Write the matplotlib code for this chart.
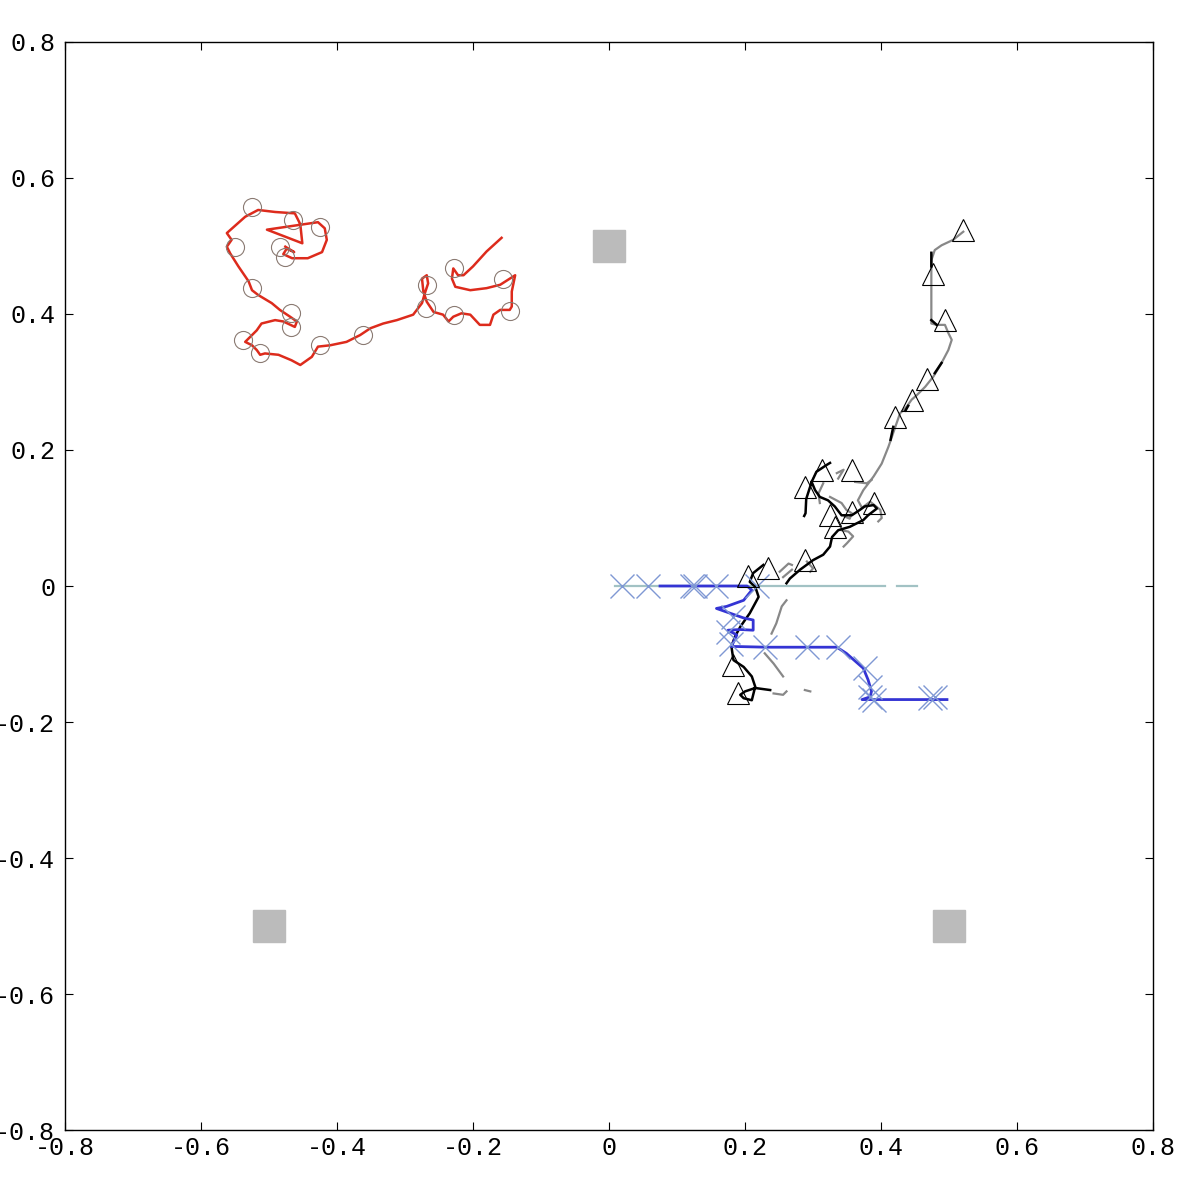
"""Agent trajectories around three gray landmarks."""

import matplotlib

matplotlib.use("Agg")
import matplotlib.pyplot as plt
import numpy as np

nan = np.nan

# landmarks
LANDMARK_X = [0.0, -0.5, 0.5]
LANDMARK_Y = [0.5, -0.5, -0.5]

# red path (circles)
RED_X = [-0.158, -0.180, -0.200, -0.214, -0.222, -0.229, -0.231, -0.226, -0.204, -0.180,
         -0.160, -0.138, -0.143, -0.143, -0.146, -0.160, -0.170, -0.175, -0.190, -0.204,
         -0.217, -0.229, -0.236, -0.244, -0.258, -0.268, -0.273, -0.275, -0.268, -0.266,
         -0.271, -0.275, -0.288, -0.312, -0.332, -0.351, -0.366, -0.386, -0.410, -0.428,
         -0.437, -0.454, -0.467, -0.486, -0.506, -0.513, -0.518, -0.525, -0.535, -0.518,
         -0.511, -0.491, -0.479, -0.462, -0.459, -0.469, -0.484, -0.496, -0.516, -0.525,
         -0.530, -0.545, -0.557, -0.562, -0.555, -0.562, -0.535, -0.516, -0.491, -0.462,
         -0.454, -0.451, -0.503, -0.469, -0.428, -0.418, -0.415, -0.422, -0.443, -0.466,
         -0.479, -0.474, -0.463, -0.476]
RED_Y = [0.512, 0.492, 0.470, 0.457, 0.457, 0.467, 0.452, 0.440, 0.435, 0.438,
         0.443, 0.457, 0.433, 0.411, 0.406, 0.406, 0.399, 0.384, 0.384, 0.399,
         0.401, 0.396, 0.389, 0.399, 0.403, 0.418, 0.433, 0.452, 0.457, 0.445,
         0.430, 0.416, 0.399, 0.391, 0.386, 0.379, 0.369, 0.359, 0.354, 0.352,
         0.337, 0.325, 0.332, 0.340, 0.342, 0.340, 0.347, 0.354, 0.359, 0.376,
         0.386, 0.391, 0.389, 0.381, 0.389, 0.396, 0.406, 0.416, 0.428, 0.435,
         0.448, 0.470, 0.489, 0.499, 0.509, 0.519, 0.543, 0.553, 0.550, 0.548,
         0.532, 0.504, 0.524, 0.529, 0.535, 0.526, 0.509, 0.491, 0.482, 0.482,
         0.488, 0.496, 0.491, 0.499]
CIRCLE_X = [-0.525, -0.464, -0.425, -0.550, -0.484, -0.476, -0.525, -0.467, -0.467, -0.538,
            -0.513, -0.425, -0.362, -0.268, -0.269, -0.228, -0.228, -0.156, -0.146]
CIRCLE_Y = [0.558, 0.538, 0.528, 0.499, 0.499, 0.484, 0.438, 0.401, 0.381, 0.362,
            0.342, 0.354, 0.369, 0.443, 0.409, 0.468, 0.399, 0.451, 0.404]

# gray path (triangles)
GRAY_X = [0.521, 0.506, 0.489, 0.479, 0.474, 0.474, 0.474, 0.474, 0.482, 0.494,
          0.499, 0.504, 0.499, 0.489, 0.477, 0.465, 0.453, 0.445, 0.438, 0.428,
          0.421, 0.411, 0.401, 0.389, 0.374, 0.366, 0.372, 0.384, 0.399, 0.401, 0.396, nan,
          0.362, 0.379, 0.386, nan, 0.335, 0.345, 0.337, nan, 0.315, 0.308, 0.310, nan,
          0.325, 0.342, 0.349, 0.357, 0.354, 0.347, nan,
          0.342, 0.352, 0.359, 0.350, 0.345, nan, 0.256, 0.269, nan,
          0.251, 0.264, 0.269, nan, 0.291, 0.300, 0.296, nan,
          0.261, 0.254, 0.246, 0.239, nan, 0.229, 0.242, 0.256, nan,
          0.242, 0.256, 0.261, nan, 0.288, 0.296]
GRAY_Y = [0.521, 0.509, 0.501, 0.494, 0.479, 0.460, 0.421, 0.386, 0.384, 0.384,
          0.372, 0.362, 0.347, 0.328, 0.308, 0.293, 0.281, 0.274, 0.264, 0.254,
          0.234, 0.205, 0.180, 0.161, 0.141, 0.126, 0.115, 0.124, 0.112, 0.100, 0.095, nan,
          0.153, 0.151, 0.156, nan, 0.166, 0.171, 0.158, nan, 0.151, 0.136, 0.122, nan,
          0.131, 0.122, 0.112, 0.107, 0.099, 0.102, nan,
          0.082, 0.080, 0.073, 0.063, 0.058, nan, 0.013, 0.024, nan,
          0.021, 0.033, 0.031, nan, 0.036, 0.026, 0.021, nan,
          -0.021, -0.030, -0.055, -0.070, nan, -0.099, -0.114, -0.133, nan,
          -0.158, -0.160, -0.155, nan, -0.153, -0.155]

# black path (triangles)
BLACK_X = [0.237, 0.215, 0.200, 0.193, 0.198, 0.210, 0.212, 0.215, 0.210, 0.198,
           0.183, 0.180, 0.185, 0.193, 0.207, 0.220, 0.215, 0.207, 0.212, 0.227, nan,
           0.261, 0.266, 0.281, 0.300, 0.315, 0.325, 0.328, 0.337, 0.354, 0.374,
           0.381, 0.394, 0.389, 0.376, 0.369, 0.357, 0.342, 0.332, 0.322, 0.310,
           0.303, 0.298, 0.305, 0.320, 0.325, nan,
           0.298, 0.290, 0.289, 0.287, nan, 0.474, 0.474, nan, 0.474, 0.482, nan,
           0.489, 0.479, nan, 0.440, 0.436, nan, 0.418, 0.414]
BLACK_Y = [-0.153, -0.150, -0.155, -0.160, -0.165, -0.168, -0.160, -0.148, -0.133, -0.119,
           -0.109, -0.089, -0.075, -0.060, -0.040, -0.016, -0.001, 0.006, 0.019, 0.031, nan,
           0.004, 0.011, 0.024, 0.038, 0.046, 0.058, 0.072, 0.082, 0.087, 0.097,
           0.104, 0.114, 0.119, 0.117, 0.112, 0.104, 0.104, 0.117, 0.126, 0.131,
           0.141, 0.153, 0.168, 0.178, 0.181, nan,
           0.153, 0.128, 0.107, 0.103, nan, 0.490, 0.470, nan, 0.391, 0.384, nan,
           0.328, 0.313, nan, 0.265, 0.258, nan, 0.234, 0.215]
TRIANGLE_X = [0.520, 0.476, 0.494, 0.467, 0.445, 0.421, 0.313, 0.357, 0.288, 0.389,
              0.325, 0.357, 0.332, 0.288, 0.205, 0.234, 0.183, 0.190]
TRIANGLE_Y = [0.523, 0.459, 0.391, 0.305, 0.274, 0.249, 0.171, 0.171, 0.146, 0.122,
              0.104, 0.109, 0.087, 0.038, 0.014, 0.026, -0.116, -0.158]

# pale path along y = 0 and blue path (crosses)
PALE_X = [0.009, 0.406, nan, 0.424, 0.453]
PALE_Y = [0.0, 0.0, nan, 0.0, 0.0]
BLUE_X = [0.075, 0.100, 0.119, 0.203, 0.210, 0.198, 0.173, 0.158, 0.178, 0.198,
          0.212, 0.212, 0.193, 0.175, 0.188, 0.180, 0.188, 0.232, 0.335, 0.349,
          0.374, 0.381, 0.386, 0.384, 0.372, 0.389, 0.497]
BLUE_Y = [0.0, 0.0, 0.0, 0.0, -0.006, -0.021, -0.030, -0.033, -0.040, -0.047,
          -0.050, -0.065, -0.064, -0.065, -0.072, -0.089, -0.089, -0.090, -0.090, -0.099,
          -0.121, -0.138, -0.155, -0.163, -0.167, -0.167, -0.167]
CROSS_X = [0.019, 0.058, 0.122, 0.126, 0.158, 0.217, 0.182, 0.175, 0.179, 0.229,
           0.291, 0.337, 0.376, 0.384, 0.384, 0.389, 0.472, 0.479]
CROSS_Y = [0.0, 0.0, 0.0, 0.0, 0.0, 0.0, -0.046, -0.068, -0.085, -0.090,
           -0.089, -0.089, -0.121, -0.148, -0.163, -0.168, -0.165, -0.163]

TICKS = [-0.8, -0.6, -0.4, -0.2, 0, 0.2, 0.4, 0.6, 0.8]
TICK_LABELS = ["-0.8", "-0.6", "-0.4", "-0.2", "0", "0.2", "0.4", "0.6", "0.8"]


def main():
    plt.rcParams.update({"font.family": "Liberation Mono", "font.size": 18})
    fig = plt.figure(figsize=(11.86, 11.86), dpi=100)
    ax = fig.add_axes([0.0548, 0.0472, 0.9174, 0.9174])

    ax.plot(LANDMARK_X, LANDMARK_Y, "s", color="#bbbbbb", markersize=23.5, zorder=1)

    ax.plot(RED_X, RED_Y, color="#dd2b1c", lw=1.8, zorder=3)
    ax.plot(CIRCLE_X, CIRCLE_Y, "o", mfc="none", mec="#8a7a72", ms=13, mew=0.8, zorder=4)

    ax.plot(PALE_X, PALE_Y, color="#a2c2c4", lw=1.6, zorder=2)
    ax.plot(GRAY_X, GRAY_Y, color="#888888", lw=1.6, zorder=2)
    ax.plot(BLACK_X, BLACK_Y, color="black", lw=1.8, zorder=3)
    ax.plot(BLUE_X, BLUE_Y, color="#3434d4", lw=2.0, zorder=3)
    ax.plot(CROSS_X, CROSS_Y, "x", color="#7f98d4", ms=17, mew=1.0, zorder=4)
    ax.plot(TRIANGLE_X, TRIANGLE_Y, "^", mfc="none", mec="black", ms=16, mew=0.8, zorder=4)

    ax.set_xlim(-0.8, 0.8)
    ax.set_ylim(-0.8, 0.8)
    ax.set_xticks(TICKS, TICK_LABELS)
    ax.set_yticks(TICKS, TICK_LABELS)
    ax.tick_params(direction="in", length=6, width=0.8, top=True, right=True)
    ax.tick_params(axis="x", pad=4)
    ax.tick_params(axis="y", pad=7)
    for spine in ax.spines.values():
        spine.set_linewidth(1.0)

    fig.savefig("out.png", dpi=100, facecolor="white")
    plt.close(fig)


if __name__ == "__main__":
    main()
